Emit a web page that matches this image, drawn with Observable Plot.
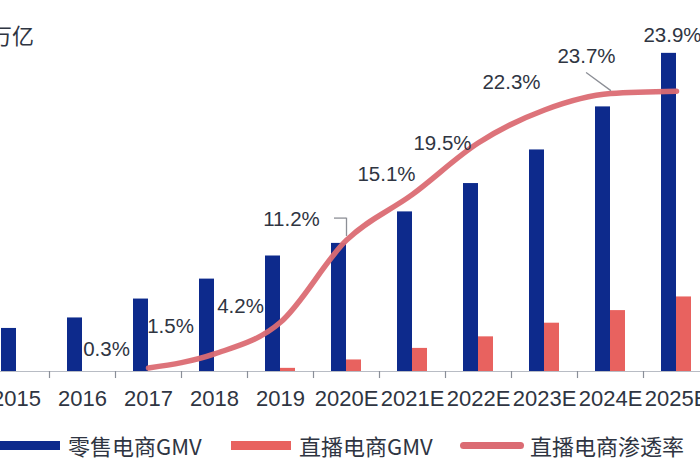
<!DOCTYPE html>
<html>
<head>
<meta charset="utf-8">
<script src="https://cdn.jsdelivr.net/npm/d3@7"></script>
<script src="https://cdn.jsdelivr.net/npm/@observablehq/plot@0.6"></script>
<style>
  html, body { margin: 0; padding: 0; background: #fff; overflow: hidden; }
  #wrap { position: relative; width: 700px; height: 470px; overflow: hidden; font-family: "Liberation Sans", "Noto Sans CJK SC", sans-serif; color: #2f3542; }
  #unit { position: absolute; left: -10px; top: 18px; font-size: 22px; font-family: "Noto Sans CJK SC", sans-serif; }
  #legend { position: absolute; left: 0; top: 420px; width: 700px; height: 50px; }
  .item { position: absolute; top: 8px; height: 34px; display: flex; align-items: center; font-size: 22px; font-family: "Noto Sans CJK SC", sans-serif; }
  .sw { display: inline-block; margin-right: 8px; }
</style>
</head>
<body>
<div id="wrap">
  <div id="chart"></div>
  <div id="unit">万亿</div>
  <div id="legend"></div>
</div>
<script>
// ---- data ----
const years = ["2015","2016","2017","2018","2019","2020E","2021E","2022E","2023E","2024E","2025E"];
const retailGMV = [4.1, 5.1, 6.9, 8.8, 11.0, 12.2, 15.2, 17.9, 21.1, 25.2, 30.3];        // 万亿
const liveGMV   = [null, null, null, null, 0.3, 1.1, 2.2, 3.3, 4.6, 5.8, 7.1];           // 万亿
const penetration = [null, null, 0.3, 1.5, 4.2, 11.2, 15.1, 19.5, 22.3, 23.7, 23.9];    // %
const seriesNames = ["零售电商GMV", "直播电商GMV", "直播电商渗透率"];

// ---- styling / layout (not data) ----
const BLUE = "#0d2a8c", RED = "#e8625f", LINE = "#db6b73", TEXT = "#2f3542";
const PCT_TO_Y = 1.117; // secondary (percent) axis mapped onto the bar axis
const labelNudge = [[-42,-19],[-44,-27],[-40,-16],[-55,-21],[-26,-20],[-36,1],[-33,-28],[-24,-37],[-4,-56]];

const bars = years.map((y, i) => ({year: y, retail: retailGMV[i], live: liveGMV[i]}));
const pts = years.map((y, i) => ({year: y, pct: penetration[i]})).filter(d => d.pct != null);

const labelMarks = pts.map((d, i) => Plot.text([d], {
  x: "year", y: p => p.pct * PCT_TO_Y,
  text: p => p.pct.toFixed(1) + "%",
  dx: labelNudge[i][0], dy: labelNudge[i][1],
  fill: TEXT, fontSize: 20.5
}));

const p112 = pts.find(d => d.year === "2020E");
const p237 = pts.find(d => d.year === "2024E");

const chart = Plot.plot({
  width: 700, height: 420,
  marginLeft: 0, marginRight: 0, marginTop: 0, marginBottom: 49,
  style: {fontFamily: "'Liberation Sans', 'Noto Sans CJK SC', sans-serif", color: TEXT, background: "transparent", overflow: "visible"},
  x: {type: "band", domain: years, range: [-17, 709], padding: 0, label: null},
  y: {domain: [0, 32], range: [371, 35], axis: null},
  marks: [
    Plot.ruleY([0], {stroke: "#b8bcc4", strokeWidth: 1.2}),
    Plot.ruleX(years, {x: d => d, dx: -33, y1: 0, y2: -0.67, stroke: "#8a8f99", strokeWidth: 1.2}),
    Plot.barY(bars, {x: "year", y: "retail", fill: BLUE, insetLeft: 18, insetRight: 33}),
    Plot.barY(bars.filter(d => d.live != null), {x: "year", y: "live", fill: RED, insetLeft: 33, insetRight: 18}),
    Plot.line(pts, {x: "year", y: d => d.pct * PCT_TO_Y, stroke: LINE, strokeWidth: 5.5, curve: "monotone-x", strokeLinecap: "round", strokeOpacity: 0.95}),
    // leader for 11.2%
    Plot.ruleX([p112], {x: "year", y1: d => d.pct * PCT_TO_Y + 0.35, y2: d => d.pct * PCT_TO_Y + 2.1, stroke: "#8c8f96", strokeWidth: 1.3}),
    Plot.tickY([p112], {x: "year", y: d => d.pct * PCT_TO_Y + 2.1, insetLeft: 21, insetRight: 33, stroke: "#8c8f96", strokeWidth: 1.3}),
    // leader for 23.7%
    Plot.arrow([p237], {x1: () => "2023E", y1: d => d.pct * PCT_TO_Y + 4.9, x2: "year", y2: d => d.pct * PCT_TO_Y + 0.3, insetStart: 52, headLength: 0, bend: false, stroke: "#8c8f96", strokeWidth: 1.3}),
    ...labelMarks,
    Plot.axisX({tickSize: 0, tickPadding: 19, fontSize: 22, fill: TEXT, label: null})
  ]
});
document.getElementById("chart").appendChild(chart);

// ---- legend (HTML below the SVG) ----
const legend = document.getElementById("legend");
const legendItems = [
  {name: seriesNames[0], left: -2, sw: `<span class="sw" style="width:62px;height:9px;background:${BLUE}"></span>`},
  {name: seriesNames[1], left: 231, sw: `<span class="sw" style="width:60px;height:9px;background:${RED}"></span>`},
  {name: seriesNames[2], left: 460, sw: `<span class="sw" style="width:64px;height:7px;border-radius:4px;background:${LINE};margin-right:6px"></span>`}
];
for (const it of legendItems) {
  const el = document.createElement("div");
  el.className = "item";
  el.style.left = it.left + "px";
  el.innerHTML = it.sw + `<span>${it.name}</span>`;
  legend.appendChild(el);
}
</script>
</body>
</html>
